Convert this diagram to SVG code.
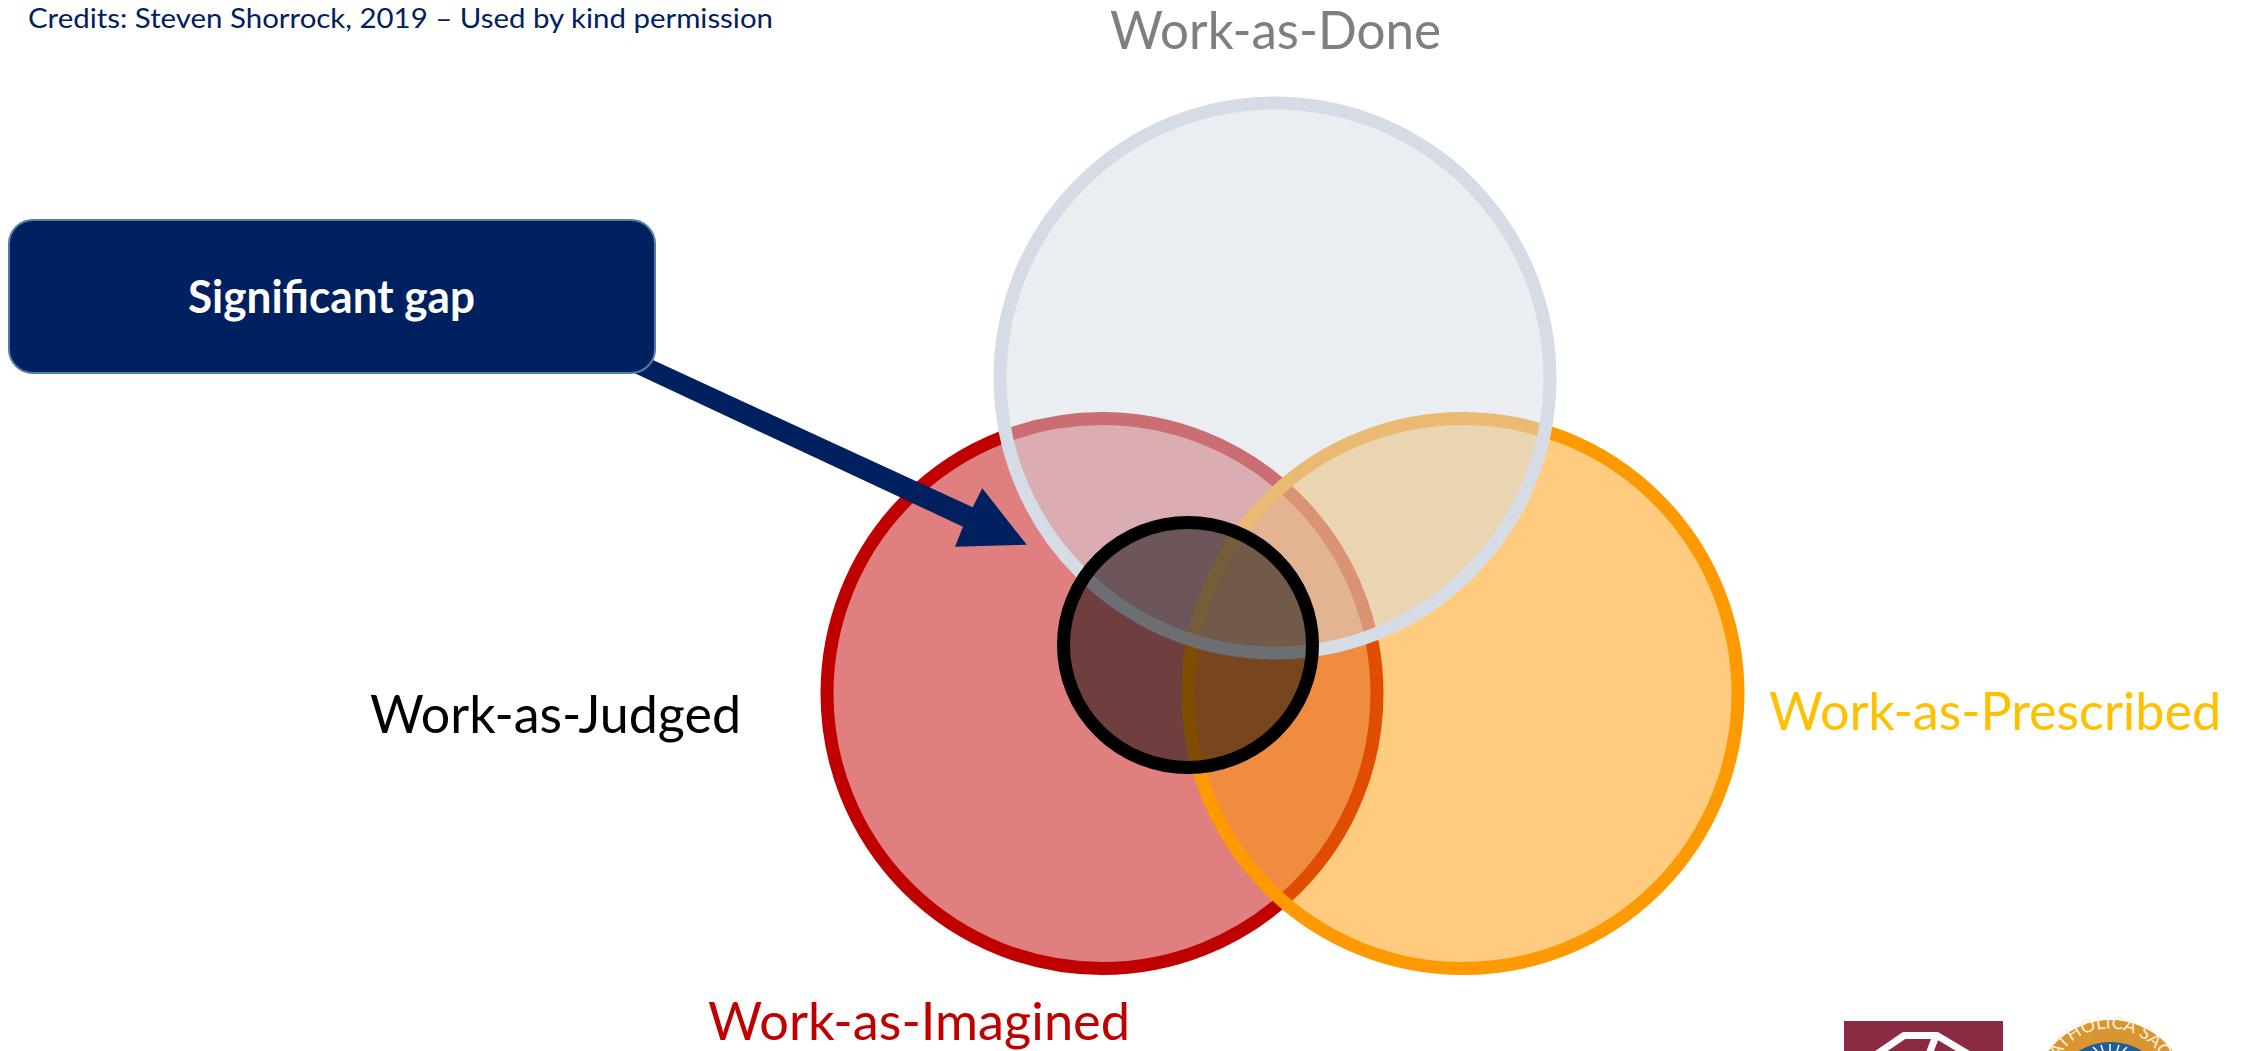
<svg xmlns="http://www.w3.org/2000/svg" width="2249" height="1051" viewBox="0 0 2249 1051">
<style>
text{font-family:Lato,"Liberation Sans",sans-serif}
.big{font-size:53px}
.v{stroke-width:13}
</style>
<defs><path id="sealArc" d="M2052.700 1069.500 A60 60 0 0 1 2169.600 1087.100"/></defs>
<rect width="2249" height="1051" fill="#fff"/>
<text x="28" y="27.5" font-size="27" fill="#002060" textLength="745" lengthAdjust="spacingAndGlyphs">Credits: Steven Shorrock, 2019 – Used by kind permission</text>
<g id="imagined"><circle class="v" cx="1102" cy="693.5" r="275" fill="#c00000" fill-opacity=".5" stroke="#c00000"/></g>
<g id="prescribed"><circle class="v" cx="1463" cy="693.5" r="275" fill="#ff9900" fill-opacity=".5" stroke="#ff9900"/></g>
<g id="done"><circle class="v" cx="1275" cy="378" r="275" fill="#d6dce5" fill-opacity=".5" stroke="#d6dce5"/></g>
<g id="judged"><ellipse class="v" cx="1188" cy="645" rx="124.500" ry="122.500" fill="#000" fill-opacity=".5" stroke="#000"/></g>
<g id="connectors"><polygon points="640,354 972.700,507.300 982.300,488.300 1026.700,544.700 955,546.700 963,526.700 630,371" fill="#002060"/></g>
<g id="gap"><rect x="9" y="220" width="646" height="153" rx="24" fill="#002060" stroke="#527da6" stroke-width="2"/>
<text x="188" y="313" font-size="45" font-weight="700" fill="#fff" textLength="287" lengthAdjust="spacingAndGlyphs">Significant gap</text></g>
<text class="big" x="1110" y="48.500" fill="#7f7f7f" textLength="331" lengthAdjust="spacingAndGlyphs">Work-as-Done</text>
<text class="big" x="370" y="733" fill="#000" textLength="371" lengthAdjust="spacingAndGlyphs">Work-as-Judged</text>
<text class="big" x="1769" y="729.500" fill="#ffc000" textLength="452" lengthAdjust="spacingAndGlyphs">Work-as-Prescribed</text>
<text class="big" x="708" y="1040" fill="#c00000" textLength="422" lengthAdjust="spacingAndGlyphs">Work-as-Imagined</text>
<g id="logo-left"><rect x="1844" y="1021" width="159" height="30" fill="#8a2b42"/>
<path d="M1877 1054 L1904 1035.500 H1937 L1968 1054 M1936 1036 L1929 1054" fill="none" stroke="#fff" stroke-width="7"/></g>
<g id="logo-right"><circle cx="2110.500" cy="1097.500" r="77.500" fill="#d9952f"/><circle cx="2110.500" cy="1102" r="60" fill="#1f5f99"/>
<path d="M2110 1051 V1044 M2103 1051 L2101 1045 M2117 1051 L2119 1045 M2097 1051 L2093 1047 M2123 1051 L2127 1047" stroke="#fff" stroke-width="1.500"/>
<text font-family="'Liberation Serif',serif" font-size="18" fill="#fbeeda"><textPath href="#sealArc">CATHOLICA SAC</textPath></text></g>
</svg>
